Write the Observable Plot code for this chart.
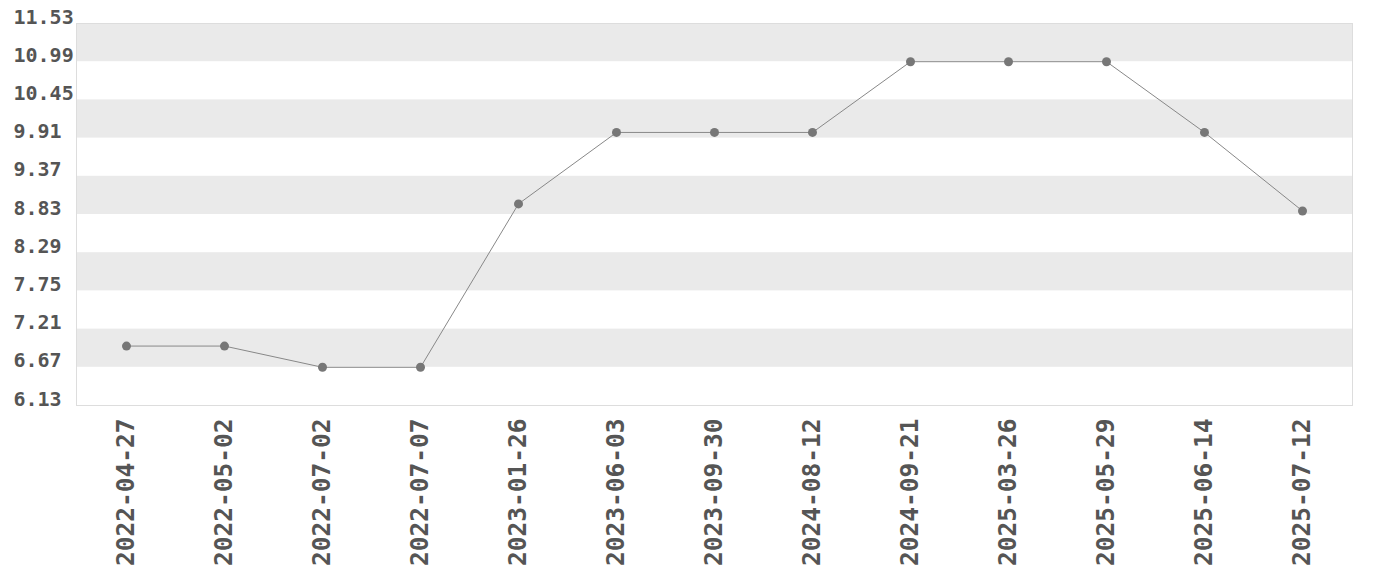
<!DOCTYPE html>
<html>
<head>
<meta charset="utf-8">
<script src="https://cdn.jsdelivr.net/npm/d3@7"></script>
<script src="https://cdn.jsdelivr.net/npm/@observablehq/plot@0.6"></script>
<style>
  html, body { margin: 0; padding: 0; background: #fff; }
  #chart svg { display: block; }
</style>
</head>
<body>
<div id="chart"></div>
<script>
const dates = ["2022-04-27","2022-05-02","2022-07-02","2022-07-07","2023-01-26","2023-06-03","2023-09-30","2024-08-12","2024-09-21","2025-03-26","2025-05-29","2025-06-14","2025-07-12"];
const values = [6.97, 6.97, 6.67, 6.67, 8.98, 9.99, 9.99, 9.99, 10.99, 10.99, 10.99, 9.99, 8.88];
const yTicks = [6.13, 6.67, 7.21, 7.75, 8.29, 8.83, 9.37, 9.91, 10.45, 10.99, 11.53];

const data = dates.map((d, i) => ({date: d, value: values[i]}));
const bands = [];
for (let i = 1; i < yTicks.length - 1; i += 2) bands.push({y1: yTicks[i], y2: yTicks[i + 1]});

const font = "'DejaVu Sans Mono', monospace";

const chart = Plot.plot({
  width: 1380,
  height: 580,
  marginLeft: 76,
  marginRight: 28,
  marginTop: 23,
  marginBottom: 175,
  style: {fontFamily: font, background: "#fff"},
  x: {type: "point", domain: dates, padding: 0.5},
  y: {domain: [yTicks[0], yTicks[yTicks.length - 1]]},
  marks: [
    Plot.rect(bands, {y1: "y1", y2: "y2", fill: "#eaeaea"}),
    Plot.frame({stroke: "#dddddd", strokeWidth: 1}),
    Plot.axisY({
      ticks: yTicks,
      tickSize: 0,
      tickFormat: d => d.toFixed(2),
      textAnchor: "start",
      lineAnchor: "bottom",
      dx: -54,
      fontSize: 20,
      fontWeight: "bold",
      fill: "#555",
      label: null
    }),
    Plot.axisX({
      tickSize: 0,
      tickRotate: -90,
      tickPadding: 13,
      fontSize: 24.5,
      fontWeight: "bold",
      fill: "#555",
      label: null
    }),
    Plot.line(data, {x: "date", y: "value", stroke: "#888", strokeWidth: 1}),
    Plot.dot(data, {x: "date", y: "value", fill: "#777", r: 4.5, stroke: "none"})
  ]
});
document.getElementById("chart").appendChild(chart);
</script>
</body>
</html>
